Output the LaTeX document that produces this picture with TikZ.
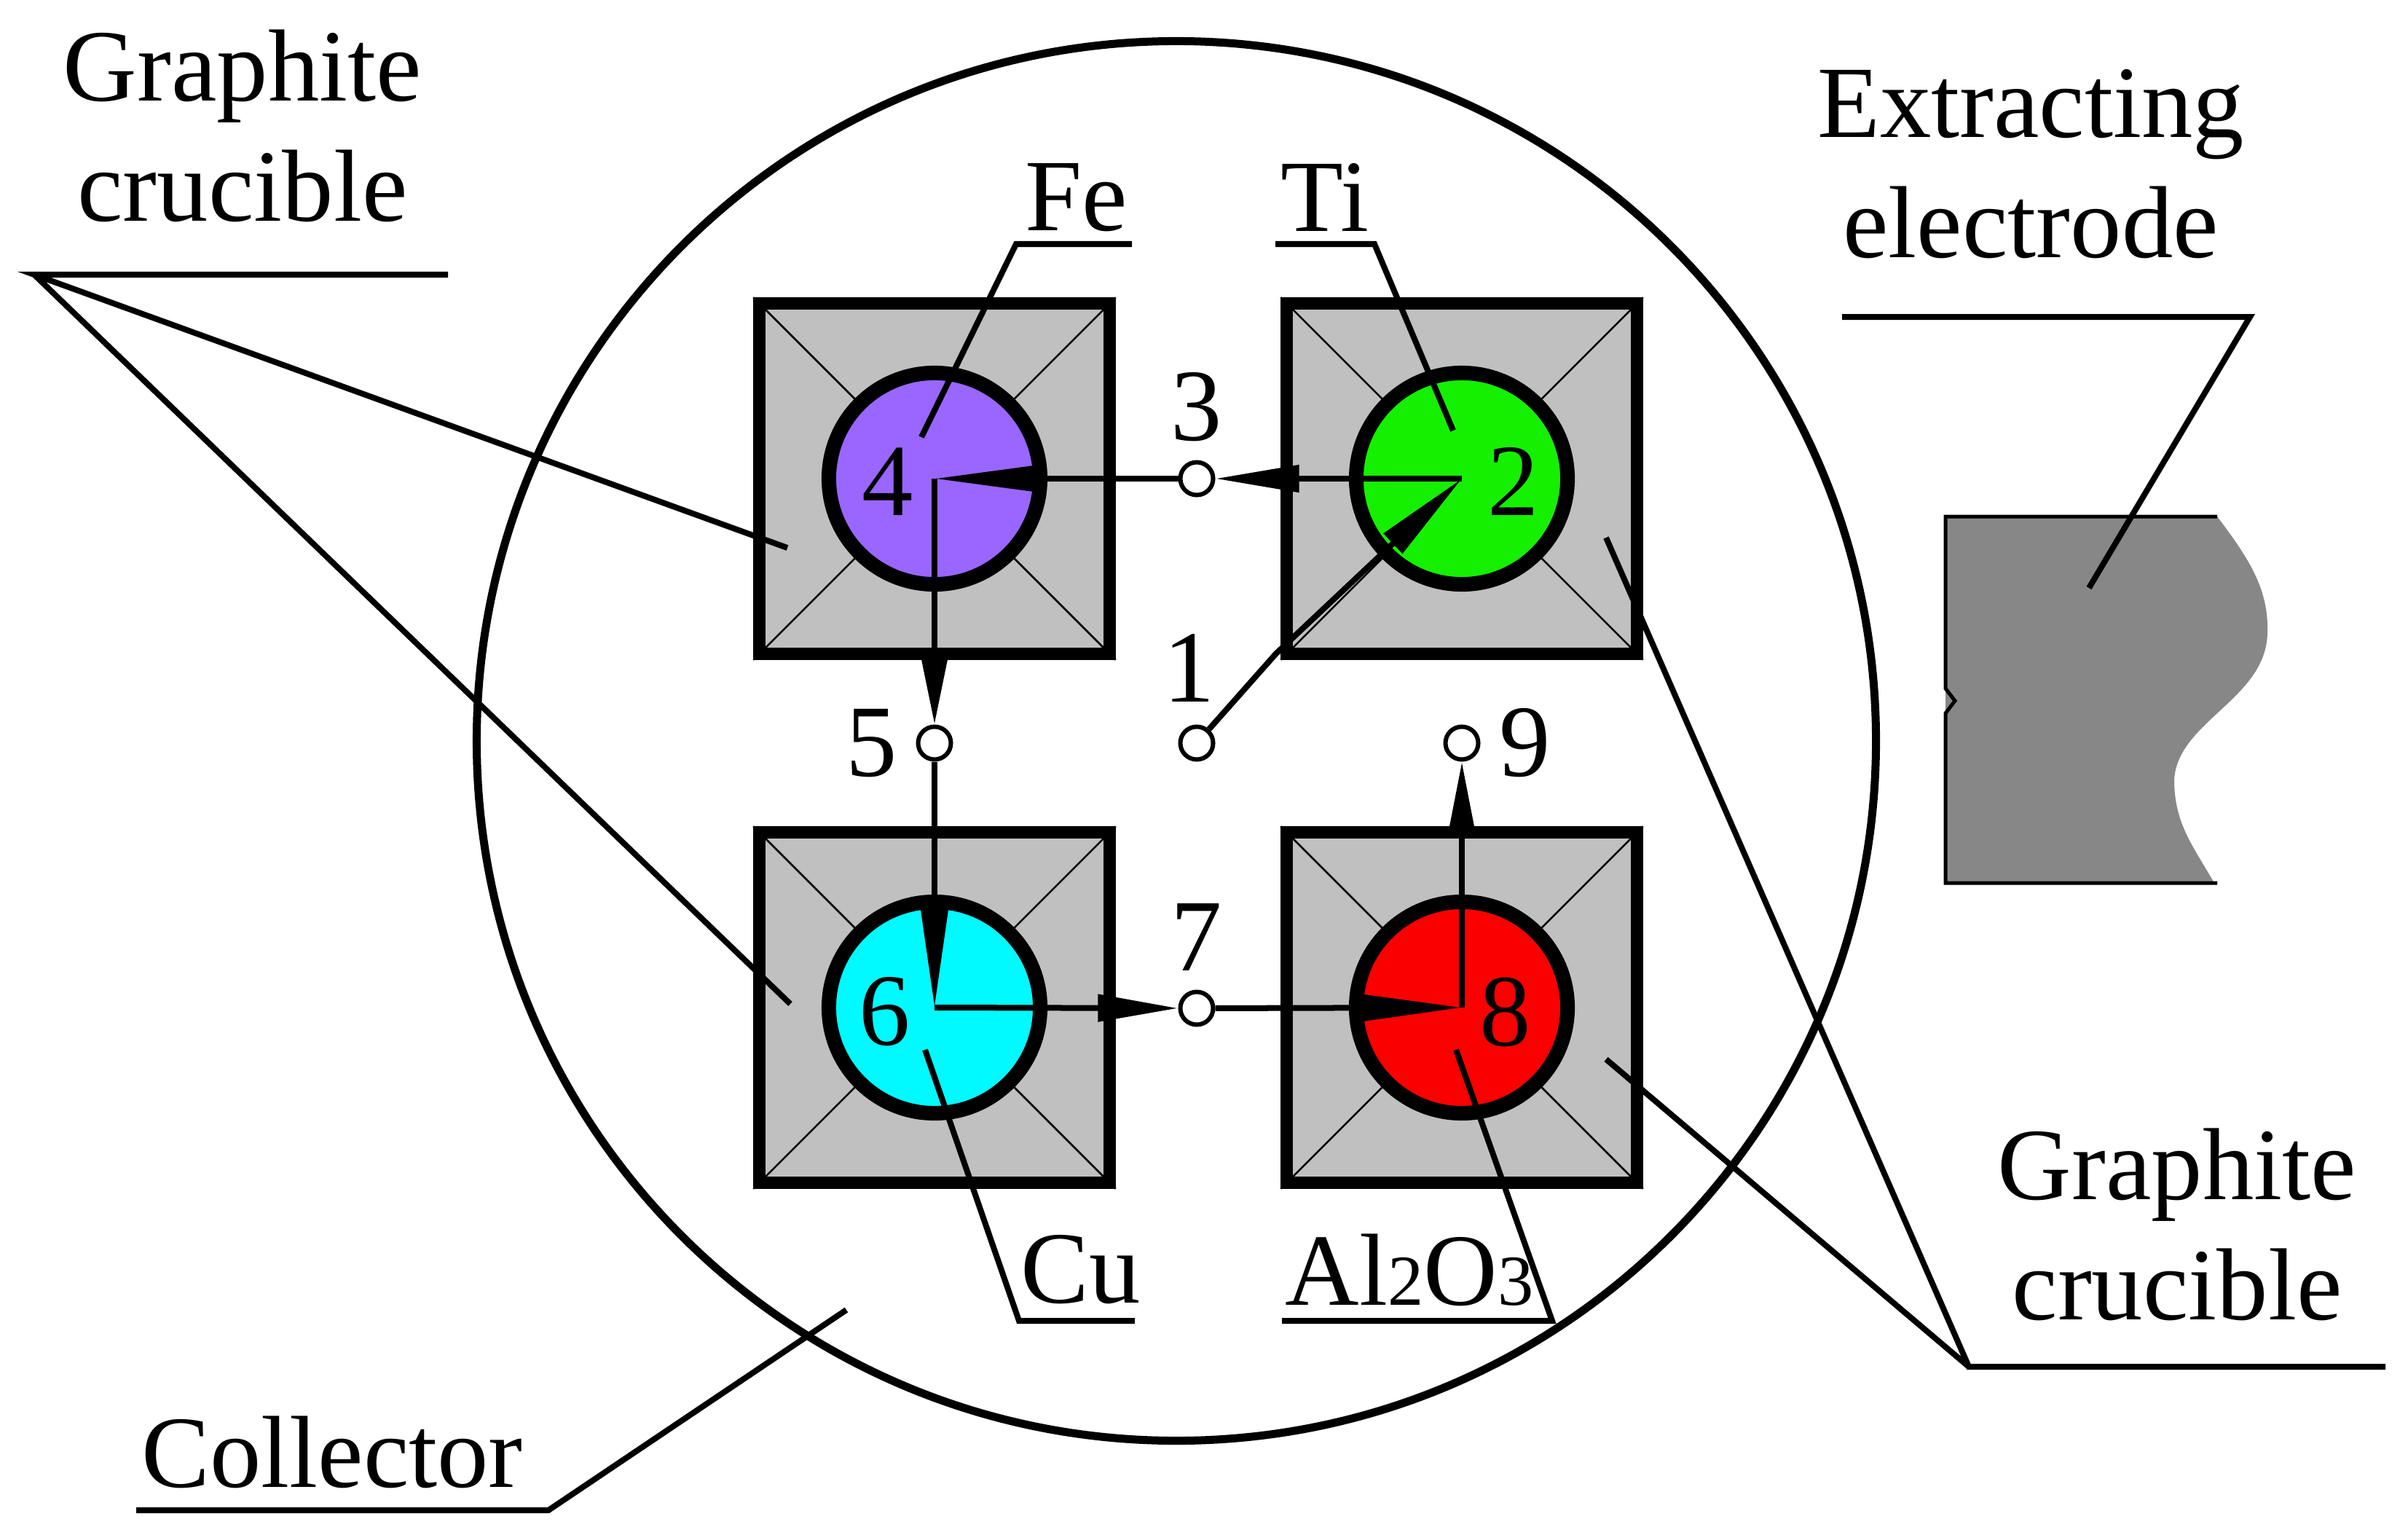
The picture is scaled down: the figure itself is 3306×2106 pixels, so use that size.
\documentclass[tikz,border=0pt]{standalone}
\usepackage{fontspec}
\setmainfont{Liberation Serif}
\usetikzlibrary{arrows.meta,positioning}
\definecolor{crucgray}{RGB}{192,192,192}
\definecolor{electgray}{RGB}{135,135,135}
\definecolor{fecol}{RGB}{153,102,255}
\definecolor{ticol}{RGB}{20,240,0}
\definecolor{cucol}{RGB}{0,250,255}
\definecolor{alcol}{RGB}{250,0,0}
\newcommand{\lowidx}[1]{{\fontsize{28}{30}\selectfont #1}}
\begin{document}
\begin{tikzpicture}[x=0.01cm,y=-0.01cm,
    crucible/.style={draw=black,fill=crucgray,line width=0.17cm,minimum size=4.8cm,inner sep=0pt},
    melt/.style={circle,draw=black,line width=0.2cm,minimum size=2.9cm,inner sep=0pt},
    pin/.style={circle,draw=black,fill=white,line width=0.06cm,minimum size=0.45cm,inner sep=0pt},
    wire/.style={line width=0.08cm},
    flow/.style={wire,-{Triangle[length=#1,width=0.36cm]}},
    leader/.style={line width=0.08cm},
    lbl/.style={font=\fontsize{40}{47}\selectfont,inner sep=0pt},
    ]
    \useasboundingbox (0,0) rectangle (3306,2106);
    % collector
    \node[circle,draw=black,line width=0.11cm,minimum size=19.2cm] (coll) at (1615,1017) {};
    % crucibles
    \foreach \n/\x/\y in {sq4/1283/657, sq2/2007/657, sq6/1283/1383, sq8/2007/1383}{
        \node[crucible] (\n) at (\x,\y) {};
        \draw[line width=0.025cm] (\n.north west) -- (\n.south east) (\n.north east) -- (\n.south west);
    }
    \node[melt,fill=fecol] (c4) at (1283,657) {};
    \node[melt,fill=ticol] (c2) at (2007,657) {};
    \node[melt,fill=cucol] (c6) at (1283,1383) {};
    \node[melt,fill=alcol] (c8) at (2007,1383) {};
    \node[lbl] at (1219,661) {4};
    \node[lbl] at (2078,661) {2};
    \node[lbl] at (1215,1389) {6};
    \node[lbl] at (2067,1389) {8};
    % pins
    \node[pin] (d3) at (1643,657) {};
    \node[pin] (d1) at (1643,1020) {};
    \node[pin] (d5) at (1283,1020) {};
    \node[pin] (d9) at (2007,1020) {};
    \node[pin] (d7) at (1643,1384) {};
    \node[lbl,above=0.25cm of d3] {3};
    \node[lbl,above=0.3cm of d1,xshift=-0.1cm] {1};
    \node[lbl,left=0.25cm of d5] {5};
    \node[lbl,right=0.25cm of d9] {9};
    \node[lbl,above=0.25cm of d7] {7};
    % current path
    \coordinate (k1) at (1752,897);
    \draw[flow=1.3cm] (d1) -- (k1) -- (c2.center);
    \draw[flow=1.15cm] (c2.center) -- (d3);
    \draw[flow=1.45cm] (d3) -- (c4.center);
    \draw[flow=0.95cm] (c4.center) -- (d5);
    \draw[flow=1.35cm] (d5) -- (c6.center);
    \draw[flow=1.1cm] (c6.center) -- (d7);
    \draw[flow=1.4cm] (d7) -- (c8.center);
    \draw[flow=1.0cm] (c8.center) -- (d9);
    % extracting electrode
    \fill[electgray] (2671,709) -- (3044,709)
        .. controls (3090,770) and (3115,810) .. (3113,870)
        .. controls (3110,960) and (2990,990) .. (2985,1070)
        .. controls (2985,1130) and (3010,1160) .. (3040,1212)
        -- (2671,1212) -- cycle;
    \draw[line width=0.05cm] (3044,709) -- (2671,709) -- (2671,945) -- (2684,962) -- (2671,979) -- (2671,1212) -- (3044,1212);
    \node (elec) at (2868,807) {};
    % labels
    \node[lbl] (tgc) at (333,188) {\begin{tabular}{c}Graphite\\crucible\end{tabular}};
    \node[lbl] (tex) at (2788,238) {\begin{tabular}{c}Extracting\\electrode\end{tabular}};
    \node[lbl] (bgc) at (2989,1696) {\begin{tabular}{c}Graphite\\crucible\end{tabular}};
    \node[lbl] (tcol) at (456,1993) {Collector};
    \node[lbl] (tfe) at (1478,271) {Fe};
    \node[lbl] (tti) at (1819,271) {Ti};
    \node[lbl] (tcu) at (1484,1743) {Cu};
    \node[lbl] (tal) at (1935,1743) {Al\lowidx{2}O\lowidx{3}};
    % leaders
    \coordinate (u1) at (47,377);
    \draw[leader] (615,377) -- (u1) -- (1081,752) (u1) -- (1085,1378);
    \coordinate (u2) at (3089,435);
    \draw[leader] (2529,435) -- (u2) -- (elec.center);
    \coordinate (u3) at (2703,1876);
    \draw[leader] (3275,1876) -- (u3) -- (2205,738) (u3) -- (2205,1454);
    \coordinate (u4) at (753,2073);
    \draw[leader] (187,2073) -- (u4) -- (1162,1798);
    \coordinate (u5) at (1395,335);
    \draw[leader] (1554,335) -- (u5) -- (1265,600);
    \coordinate (u6) at (1887,335);
    \draw[leader] (1751,335) -- (u6) -- (1995,591);
    \coordinate (u7) at (1399,1813);
    \draw[leader] (1558,1813) -- (u7) -- (1270,1441);
    \coordinate (u8) at (2131,1813);
    \draw[leader] (1760,1813) -- (u8) -- (1999,1441);
\end{tikzpicture}
\end{document}
